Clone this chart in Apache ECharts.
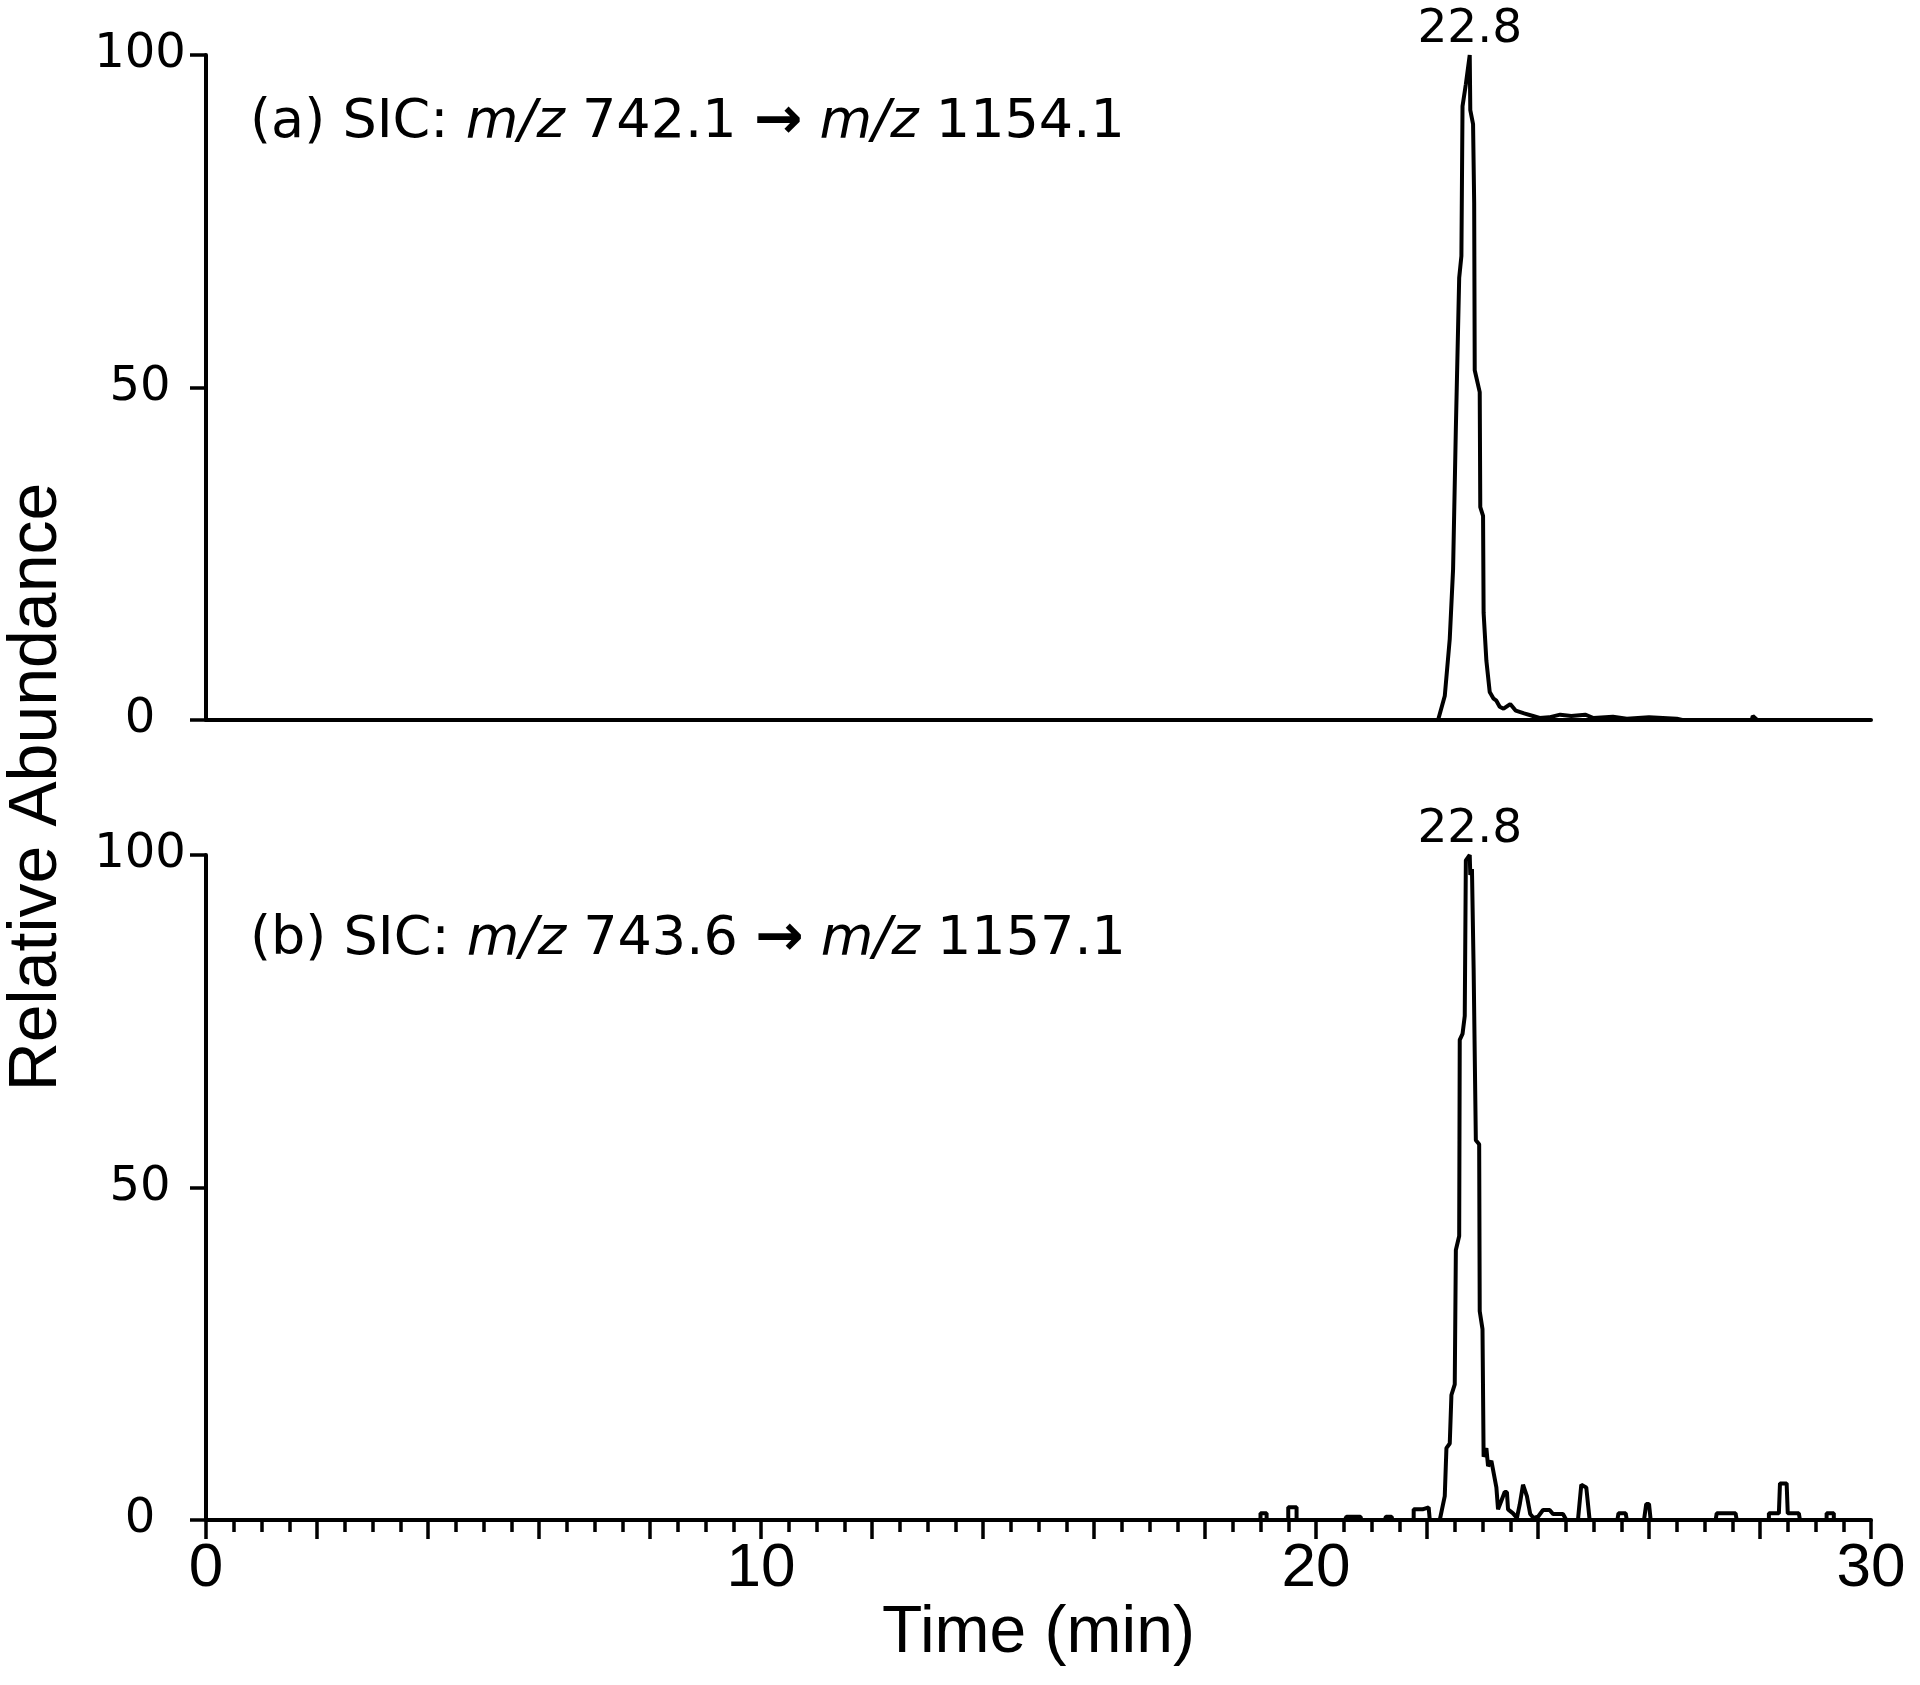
<!DOCTYPE html>
<html>
<head>
    <meta charset="utf-8">
    <title>SIC chromatograms</title>
    <script type="text/javascript" src="https://cdn.jsdelivr.net/npm/echarts@6/dist/echarts.min.js"></script>
    <style>
        body { margin: 0; background: #fff; }
    </style>
</head>
<body>
<div id="main" style="width: 1920px;height:1685px;"></div>
<script type="text/javascript">
    // retention time (min) / relative abundance
    var traceA = [
        [0, 0], [22.20, 0], [22.32, 3.6], [22.41, 12.2], [22.47, 22.7], [22.52, 43.9],
        [22.58, 66.5], [22.62, 69.8], [22.64, 92.3], [22.70, 95.6], [22.77, 100],
        [22.78, 91.7], [22.83, 89.6], [22.85, 77.7], [22.86, 52.6], [22.95, 49.3],
        [22.96, 32.0], [23.01, 30.7], [23.02, 16.1], [23.07, 8.9], [23.13, 4.2],
        [23.20, 3.2], [23.25, 2.9], [23.31, 2.0], [23.38, 1.7], [23.50, 2.4],
        [23.60, 1.4], [23.75, 1.0], [23.91, 0.6], [24.03, 0.3], [24.20, 0.4],
        [24.40, 0.8], [24.60, 0.6], [24.85, 0.8], [25.00, 0.3], [25.35, 0.5],
        [25.60, 0.2], [26.00, 0.4], [26.50, 0.2], [26.60, 0], [27.85, 0],
        [27.87, 0.6], [27.95, 0], [30, 0]
    ];
    var traceB = [
        [0, 0], [19.00, 0], [19.00, 1.0], [19.11, 1.0], [19.11, 0], [19.50, 0],
        [19.50, 1.9], [19.65, 1.9], [19.65, 0], [20.52, 0], [20.55, 0.5], [20.80, 0.5],
        [20.82, 0], [21.24, 0], [21.26, 0.5], [21.36, 0.5], [21.38, 0], [21.76, 0],
        [21.76, 1.6], [21.92, 1.6], [21.92, 1.9], [22.03, 1.9], [22.05, 0], [22.23, 0],
        [22.32, 3.6], [22.35, 10.8], [22.41, 11.5], [22.44, 18.8], [22.50, 20.4],
        [22.52, 40.6], [22.58, 42.7], [22.59, 72.2], [22.64, 73.1], [22.68, 75.8],
        [22.70, 99.2], [22.77, 100], [22.78, 97], [22.81, 97.9], [22.84, 83],
        [22.88, 57.1], [22.94, 56.5], [22.95, 31.4], [23.00, 28.7], [23.02, 9.5],
        [23.07, 10.8], [23.10, 8.1], [23.16, 8.9], [23.25, 4.9], [23.28, 1.6],
        [23.34, 2.9], [23.40, 4.2], [23.44, 4.2], [23.46, 1.6], [23.55, 1.0],
        [23.62, 0.3], [23.67, 2.3], [23.73, 5.3], [23.80, 3.6], [23.86, 0.9],
        [23.92, 0.3], [24.00, 0.5], [24.09, 1.5], [24.21, 1.5], [24.27, 0.9],
        [24.45, 0.9], [24.51, 0], [24.72, 0], [24.78, 5.3], [24.87, 4.9], [24.93, 0],
        [25.43, 0], [25.45, 1.0], [25.58, 1.0], [25.60, 0], [25.91, 0], [25.95, 2.4],
        [26.00, 2.4], [26.03, 0], [27.20, 0], [27.22, 1.0], [27.56, 1.0], [27.58, 0],
        [28.16, 0], [28.16, 1.0], [28.34, 1.0], [28.36, 5.5], [28.48, 5.5], [28.50, 1.0],
        [28.70, 1.0], [28.72, 0], [29.20, 0], [29.20, 1.0], [29.33, 1.0], [29.33, 0],
        [30, 0]
    ];
    // apex of each peak and its label
    var apexTimes = [22.77, 22.77];
    var apexValues = [100, 100];
    var apexLabels = ['22.8', '22.8'];
    var xTickLabels = [0, 10, 20, 30];
    var yTicks = [0, 50, 100];

    var myChart = echarts.init(document.getElementById('main'));

    var labelFont = 'DejaVu Sans';
    var titleFont = 'Liberation Sans, Arial, sans-serif';
    var lineW = 4;

    function yAxisFor(idx) {
        return {
            gridIndex: idx,
            type: 'value',
            min: yTicks[0],
            max: yTicks[yTicks.length - 1],
            interval: 50,
            axisLine: { show: true, lineStyle: { color: '#000', width: lineW } },
            axisTick: { show: true, inside: false, length: 16, lineStyle: { color: '#000', width: 3.5 } },
            axisLabel: {
                color: '#000', fontFamily: labelFont, fontSize: 48,
                align: 'center', margin: 66
            },
            splitLine: { show: false }
        };
    }

    function peakMark(i) {
        return {
            symbol: 'circle',
            symbolSize: 1,
            itemStyle: { color: 'rgba(0,0,0,0)' },
            label: {
                show: true, position: 'top', distance: 1,
                color: '#000', fontFamily: labelFont, fontSize: 47,
                formatter: apexLabels[i]
            },
            data: [{ coord: [apexTimes[i], apexValues[i]] }]
        };
    }

    var option = {
        animation: false,
        backgroundColor: '#fff',
        grid: [
            { left: 206, right: 49, top: 55, height: 665 },
            { left: 206, right: 49, top: 855, height: 665 }
        ],
        xAxis: [
            {
                gridIndex: 0, type: 'value', min: 0, max: 30, interval: 2,
                axisLine: { show: true, lineStyle: { color: '#000', width: lineW } },
                axisTick: { show: false },
                axisLabel: { show: false },
                splitLine: { show: false }
            },
            {
                gridIndex: 1, type: 'value', min: 0, max: 30, interval: 2,
                name: 'Time (min)',
                nameLocation: 'middle',
                nameGap: 78,
                nameTextStyle: { color: '#000', fontFamily: titleFont, fontSize: 66 },
                axisLine: { show: true, lineStyle: { color: '#000', width: lineW } },
                axisTick: { show: true, length: 19, lineStyle: { color: '#000', width: 3.5 } },
                minorTick: { show: true, splitNumber: 4, length: 12, lineStyle: { color: '#000', width: 3.5 } },
                axisLabel: {
                    color: '#000', fontFamily: titleFont, fontSize: 62, margin: 18,
                    formatter: function (v) {
                        return xTickLabels.indexOf(v) >= 0 ? String(v) : '';
                    }
                },
                splitLine: { show: false }
            }
        ],
        yAxis: [yAxisFor(0), yAxisFor(1)],
        series: [
            {
                type: 'line', xAxisIndex: 0, yAxisIndex: 0,
                data: traceA, showSymbol: false, smooth: false,
                lineStyle: { color: '#000', width: lineW },
                markPoint: peakMark(0)
            },
            {
                type: 'line', xAxisIndex: 1, yAxisIndex: 1,
                data: traceB, showSymbol: false, smooth: false,
                lineStyle: { color: '#000', width: lineW },
                markPoint: peakMark(1)
            }
        ],
        graphic: [
            {
                type: 'text', x: 37, y: 787, rotation: Math.PI / 2,
                style: {
                    text: 'Relative Abundance', fill: '#000',
                    font: '68px "Liberation Sans", Arial, sans-serif',
                    align: 'center', verticalAlign: 'middle'
                }
            },
            {
                type: 'text', x: 250, y: 123,
                style: {
                    text: '(a) SIC: {i|m/z} 742.1 {a|→} {i|m/z} 1154.1',
                    fill: '#000', fontFamily: labelFont, fontSize: 54,
                    verticalAlign: 'middle',
                    rich: {
                        i: { fontFamily: labelFont, fontSize: 54, fontStyle: 'italic', fill: '#000' },
                        a: { fontFamily: labelFont, fontSize: 58, fontWeight: 'bold', fill: '#000' }
                    }
                }
            },
            {
                type: 'text', x: 250, y: 940,
                style: {
                    text: '(b) SIC: {i|m/z} 743.6 {a|→} {i|m/z} 1157.1',
                    fill: '#000', fontFamily: labelFont, fontSize: 54,
                    verticalAlign: 'middle',
                    rich: {
                        i: { fontFamily: labelFont, fontSize: 54, fontStyle: 'italic', fill: '#000' },
                        a: { fontFamily: labelFont, fontSize: 58, fontWeight: 'bold', fill: '#000' }
                    }
                }
            }
        ]
    };

    myChart.setOption(option);
</script>
</body>
</html>
